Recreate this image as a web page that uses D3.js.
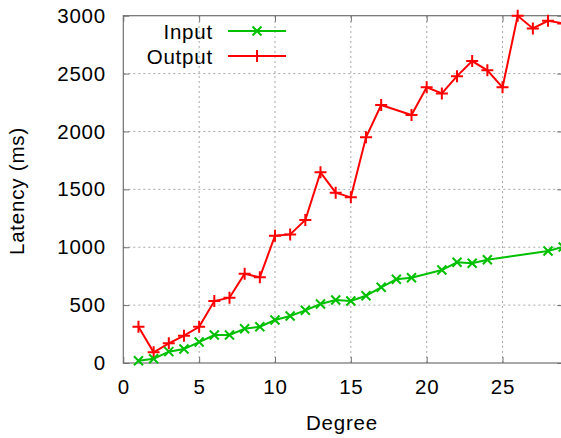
<!DOCTYPE html>
<html>
<head>
<meta charset="utf-8">
<style> body { margin: 0; background: #fff; } text { font-family: "Liberation Sans", Arial, sans-serif; letter-spacing: 0.8px; } </style>
<script src="https://d3js.org/d3.v7.min.js"></script>
</head>
<body>
<div id="chart"></div>
<script>
// Input series
const inputX = [1, 2, 3, 4, 5, 6, 7, 8, 9, 10, 11, 12, 13, 14, 15, 16, 17, 18, 19, 21, 22, 23, 24, 28, 29];
const inputY = [20, 37, 98, 121, 181, 242, 242, 296, 313, 371, 406, 455, 510, 544, 535, 581, 654, 723, 737, 803, 870, 861, 892, 967, 1002];
// Output series
const outputX = [1, 2, 3, 4, 5, 6, 7, 8, 9, 10, 11, 12, 13, 14, 15, 16, 17, 19, 20, 21, 22, 23, 24, 25, 26, 27, 28, 29];
const outputY = [313, 92, 170, 236, 313, 535, 564, 771, 740, 1099, 1111, 1235, 1647, 1471, 1431, 1949, 2228, 2142, 2381, 2329, 2478, 2608, 2528, 2381, 2999, 2890, 2956, 2933];
const xTicks = [0, 5, 10, 15, 20, 25];
const yTicks = [0, 500, 1000, 1500, 2000, 2500, 3000];

const W = 561, H = 438;
const L = 123.3, R = 563.2, T = 15.7, B = 363;
const FS = 20.5;

const svg = d3.select("#chart").append("svg")
    .attr("width", W).attr("height", H);

const x = d3.scaleLinear().domain([0, 29]).range([L, R]);
const y = d3.scaleLinear().domain([0, 3000]).range([B, T]);

// grid
const grid = svg.append("g").attr("stroke", "#a8a8a8").attr("stroke-width", 1)
    .attr("stroke-dasharray", "2,3");
grid.selectAll(".gx").data(xTicks.filter(d => d > 0)).join("line")
    .attr("x1", d => x(d)).attr("x2", d => x(d)).attr("y1", B).attr("y2", T);
grid.selectAll(".gy").data(yTicks.filter(d => d > 0 && d < 3000)).join("line")
    .attr("y1", d => y(d)).attr("y2", d => y(d)).attr("x1", L).attr("x2", R);

// axes
const tick = 6;
const fmt = d3.format("d");
svg.append("g").attr("transform", `translate(0,${B})`)
    .call(d3.axisBottom(x).tickValues(xTicks).tickSize(-tick).tickPadding(16).tickFormat(fmt))
    .call(g => g.select(".domain").remove());
svg.append("g").attr("transform", `translate(0,${T})`)
    .call(d3.axisTop(x).tickValues(xTicks).tickSize(-tick).tickFormat(""))
    .call(g => g.select(".domain").remove());
svg.append("g").attr("transform", `translate(${L},0)`)
    .call(d3.axisLeft(y).tickValues(yTicks).tickSize(-tick).tickPadding(17.3).tickFormat(fmt))
    .call(g => g.select(".domain").remove());
svg.append("g").attr("transform", `translate(${R},0)`)
    .call(d3.axisRight(y).tickValues(yTicks).tickSize(-tick).tickFormat(""))
    .call(g => g.select(".domain").remove());
svg.selectAll(".tick line").attr("stroke", "#707070");
svg.selectAll(".tick text").attr("font-size", FS).attr("fill", "#000")
    .style("font-family", "'Liberation Sans', Arial, sans-serif");

svg.append("rect").attr("x", L).attr("y", T).attr("width", R - L).attr("height", B - T)
    .attr("fill", "none").attr("stroke", "#707070").attr("stroke-width", 1.2);

// labels
svg.append("text").attr("x", 342).attr("y", 430).attr("text-anchor", "middle")
    .attr("font-size", FS).text("Degree");
svg.append("text").attr("transform", "translate(23.5,191) rotate(-90)").attr("text-anchor", "middle")
    .attr("font-size", FS).text("Latency (ms)");

const line = d3.line().x(d => x(d[0])).y(d => y(d[1]));
const inputData = inputX.map((v, i) => [v, inputY[i]]);
const outputData = outputX.map((v, i) => [v, outputY[i]]);

function plus(g, cx, cy, s) {
    g.append("path").attr("d", `M${cx - s},${cy}H${cx + s}M${cx},${cy - s}V${cy + s}`);
}
function cross(g, cx, cy, s) {
    g.append("path").attr("d", `M${cx - s},${cy - s}L${cx + s},${cy + s}M${cx - s},${cy + s}L${cx + s},${cy - s}`);
}

const plot = svg.append("g");
const series = [
    { data: outputData, color: "#ff0000", mark: plus, size: 6 },
    { data: inputData, color: "#00c000", mark: cross, size: 4.5 }
];
series.forEach(s => {
    plot.append("path").datum(s.data).attr("d", line)
        .attr("fill", "none").attr("stroke", s.color).attr("stroke-width", 2);
    const mg = plot.append("g").attr("stroke", s.color).attr("stroke-width", 2).attr("fill", "none");
    s.data.forEach(d => s.mark(mg, x(d[0]), y(d[1]), s.size));
});

// legend
const legend = [
    { name: "Input", color: "#00c000", mark: cross, size: 4.5, y: 31 },
    { name: "Output", color: "#ff0000", mark: plus, size: 6, y: 56 }
];
legend.forEach(l => {
    svg.append("text").attr("x", 213).attr("y", l.y + 7.5).attr("text-anchor", "end")
        .attr("font-size", FS).text(l.name);
    svg.append("line").attr("x1", 228).attr("x2", 286).attr("y1", l.y).attr("y2", l.y)
        .attr("stroke", l.color).attr("stroke-width", 2);
    const mg = svg.append("g").attr("stroke", l.color).attr("stroke-width", 2);
    l.mark(mg, 257, l.y, l.size);
});
</script>
</body>
</html>
